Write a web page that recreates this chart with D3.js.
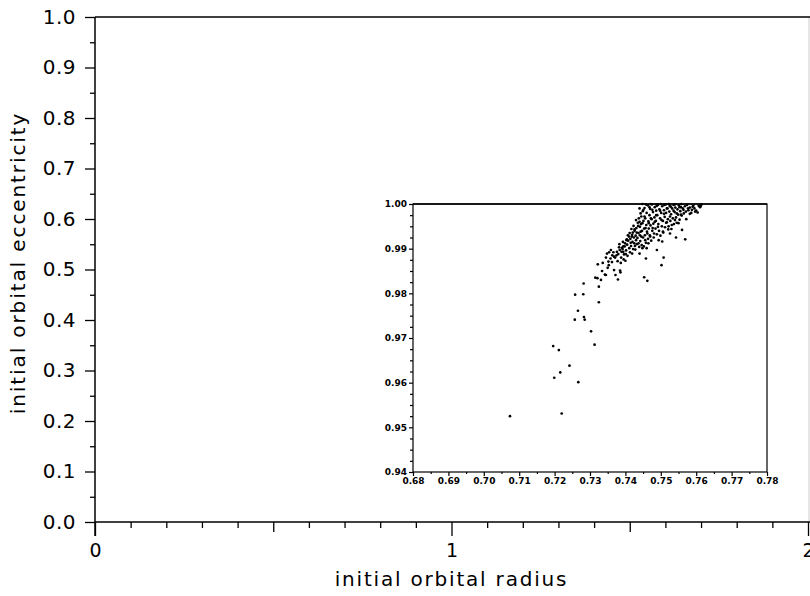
<!DOCTYPE html>
<html>
<head>
<meta charset="utf-8">
<script src="https://cdn.jsdelivr.net/npm/d3@7"></script>
<style>
  body { margin: 0; background: #fff; }
  text { font-family: "DejaVu Sans", sans-serif; fill: #000; }
</style>
</head>
<body>
<div class="chart"></div>
<script>
// main frame: eccentricity vs radius (empty), inset: zoom on the e ~ 1 cluster

var width = 810,
    height = 596;

// main axis ticks
var mainXTicks = [0, 1, 2];
var mainYTicks = [0, 0.1, 0.2, 0.3, 0.4, 0.5, 0.6, 0.7, 0.8, 0.9, 1.0];

// inset axis ticks
var insetXTicks = [0.68, 0.69, 0.70, 0.71, 0.72, 0.73, 0.74, 0.75, 0.76, 0.77, 0.78];
var insetYTicks = [0.94, 0.95, 0.96, 0.97, 0.98, 0.99, 1.00];

// inset points: initial radius / initial eccentricity
var orbR = [
  0.7074, 0.7220, 0.7196, 0.7212, 0.7199, 0.7216, 0.7242, 0.7267, 0.7258, 0.7266,
  0.7257, 0.7282, 0.7281, 0.7283, 0.7285, 0.7303, 0.7313, 0.7325, 0.7325, 0.7315,
  0.7321, 0.7322, 0.7331, 0.7336, 0.7334, 0.7342, 0.7350, 0.7345, 0.7345, 0.7348,
  0.7354, 0.7353, 0.7359, 0.7363, 0.7368, 0.7372, 0.7379, 0.7385, 0.7386, 0.7368,
  0.7375, 0.7382, 0.7390, 0.7389, 0.7394, 0.7394, 0.7387, 0.7395, 0.7401, 0.7399,
  0.7403, 0.7407, 0.7410, 0.7415, 0.7418, 0.7421, 0.7419, 0.7428, 0.7425, 0.7430,
  0.7437, 0.7440, 0.7423, 0.7426, 0.7432, 0.7435, 0.7430, 0.7438, 0.7441, 0.7443,
  0.7445, 0.7448, 0.7443, 0.7440, 0.7451, 0.7454, 0.7457, 0.7456, 0.7462, 0.7465,
  0.7460, 0.7458, 0.7453, 0.7462, 0.7470, 0.7466, 0.7472, 0.7468, 0.7476, 0.7477,
  0.7483, 0.7481, 0.7487, 0.7492, 0.7494, 0.7489, 0.7498, 0.7502, 0.7506, 0.7504,
  0.7502, 0.7508, 0.7509, 0.7515, 0.7517, 0.7521, 0.7526, 0.7531, 0.7528, 0.7536,
  0.7540, 0.7543, 0.7545, 0.7550, 0.7553, 0.7557, 0.7560, 0.7564, 0.7569, 0.7572,
  0.7577, 0.7582, 0.7588, 0.7592, 0.7597, 0.7604, 0.7611, 0.7613, 0.7526, 0.7489,
  0.7448,
  0.7380, 0.7384, 0.7388, 0.7392, 0.7396, 0.7398, 0.7400, 0.7402, 0.7405, 0.7406,
  0.7408, 0.7411, 0.7413, 0.7414, 0.7416, 0.7419, 0.7420, 0.7422, 0.7424, 0.7426,
  0.7427, 0.7429, 0.7431, 0.7432, 0.7434, 0.7436, 0.7437, 0.7439, 0.7440, 0.7441,
  0.7442, 0.7444, 0.7445, 0.7446, 0.7447, 0.7449, 0.7450, 0.7451, 0.7452, 0.7453,
  0.7454, 0.7455, 0.7456, 0.7458, 0.7459, 0.7460, 0.7461, 0.7463, 0.7464, 0.7465,
  0.7466, 0.7468, 0.7469, 0.7470, 0.7471, 0.7473, 0.7474, 0.7475, 0.7476, 0.7478,
  0.7479, 0.7480, 0.7482, 0.7483, 0.7485, 0.7486, 0.7487, 0.7489, 0.7490, 0.7492,
  0.7493, 0.7495, 0.7496, 0.7498, 0.7499, 0.7501, 0.7503, 0.7504, 0.7506, 0.7507,
  0.7509, 0.7511, 0.7512, 0.7514, 0.7515, 0.7517, 0.7519, 0.7520, 0.7522, 0.7524,
  0.7525, 0.7527, 0.7529, 0.7530, 0.7532, 0.7534, 0.7536, 0.7537, 0.7539, 0.7541,
  0.7543, 0.7545, 0.7547, 0.7549, 0.7551, 0.7553, 0.7555, 0.7557, 0.7559, 0.7562,
  0.7565, 0.7568, 0.7571, 0.7574, 0.7578, 0.7582, 0.7586, 0.7590, 0.7595, 0.7600,
  0.7607, 0.7615,
  0.7448, 0.7458, 0.7472, 0.7488, 0.7500, 0.7510, 0.7523, 0.7540, 0.7558,
  0.7352, 0.7358, 0.7362, 0.7366, 0.7371, 0.7376, 0.7378, 0.7383, 0.7393, 0.7404,
  0.7412, 0.7417
];

var orbE = [
  0.9525, 0.9531, 0.9682, 0.9673, 0.9611, 0.9623, 0.9638, 0.9601, 0.9797, 0.9761,
  0.9741, 0.9822, 0.9798, 0.9747, 0.9741, 0.9715, 0.9685, 0.9780, 0.9815, 0.9835,
  0.9834, 0.9865, 0.9830, 0.9868, 0.9850, 0.9842, 0.9857, 0.9841, 0.9880, 0.9889,
  0.9892, 0.9863, 0.9897, 0.9885, 0.9852, 0.9841, 0.9831, 0.9851, 0.9847, 0.9882,
  0.9885, 0.9903, 0.9902, 0.9893, 0.9905, 0.9893, 0.9868, 0.9876, 0.9888, 0.9912,
  0.9919, 0.9930, 0.9927, 0.9913, 0.9927, 0.9936, 0.9889, 0.9898, 0.9912, 0.9919,
  0.9912, 0.9889, 0.9951, 0.9943, 0.9936, 0.9958, 0.9964, 0.9968, 0.9949, 0.9938,
  0.9927, 0.9957, 0.9979, 0.9990, 0.9987, 0.9972, 0.9946, 0.9919, 0.9934, 0.9912,
  0.9901, 0.9878, 0.9836, 0.9828, 0.9927, 0.9957, 0.9968, 0.9993, 0.9987, 0.9946,
  0.9960, 0.9934, 0.9975, 0.9949, 0.9919, 0.9996, 0.9985, 0.9964, 0.9938, 0.9916,
  0.9863, 0.9880, 0.9978, 0.9958, 0.9990, 0.9943, 0.9972, 0.9953, 0.9994, 0.9985,
  0.9964, 0.9925, 0.9979, 0.9957, 0.9993, 0.9976, 0.9942, 0.9987, 0.9921, 0.9966,
  0.9990, 0.9978, 0.9987, 0.9996, 0.9983, 0.9981, 0.9993, 0.9996, 0.9934, 0.9897,
  0.9901,
  0.9888, 0.9897, 0.9880, 0.9899, 0.9887, 0.9905, 0.9873, 0.9896, 0.9909, 0.9884,
  0.9918, 0.9901, 0.9892, 0.9922, 0.9906, 0.9931, 0.9915, 0.9899, 0.9925, 0.9940,
  0.9906, 0.9929, 0.9946, 0.9910, 0.9924, 0.9951, 0.9935, 0.9904, 0.9960, 0.9930,
  0.9917, 0.9955, 0.9972, 0.9908, 0.9940, 0.9984, 0.9925, 0.9962, 0.9905, 0.9945,
  0.9991, 0.9930, 0.9968, 0.9913, 0.9953, 0.9980, 0.9938, 0.9997, 0.9922, 0.9961,
  0.9945, 0.9975, 0.9930, 0.9989, 0.9952, 0.9918, 0.9966, 0.9999, 0.9940, 0.9982,
  0.9956, 0.9925, 0.9970, 0.9993, 0.9945, 0.9962, 0.9985, 0.9932, 0.9975, 0.9998,
  0.9955, 0.9940, 0.9988, 0.9968, 0.9929, 0.9980, 0.9950, 0.9995, 0.9962, 0.9936,
  0.9986, 0.9971, 0.9948, 0.9999, 0.9980, 0.9959, 0.9990, 0.9966, 0.9950, 0.9983,
  0.9996, 0.9962, 0.9977, 0.9944, 0.9990, 0.9968, 0.9998, 0.9955, 0.9982, 0.9992,
  0.9970, 0.9958, 0.9988, 0.9976, 0.9997, 0.9965, 0.9984, 0.9993, 0.9974, 0.9990,
  0.9979, 0.9995, 0.9983, 0.9998, 0.9986, 0.9992, 0.9980, 0.9994, 0.9990, 0.9985,
  0.9996, 0.9999,
  1.0000, 0.9999, 1.0000, 0.9999, 1.0000, 0.9998, 1.0000, 0.9999, 1.0000,
  0.9871, 0.9878, 0.9870, 0.9892, 0.9880, 0.9893, 0.9872, 0.9910, 0.9915, 0.9921,
  0.9935, 0.9944
];

var points = orbR.map(function(r, i) { return { r: r, e: orbE[i] }; });

var svg = d3.select('.chart').append('svg')
    .attr('width', width)
    .attr('height', height);

// ---------- main frame ----------
var x = d3.scaleLinear().domain([0, 2]).range([95, 808]);
var y = d3.scaleLinear().domain([0, 1]).range([522, 17]);

// faint right edge and top edge of the frame
svg.append('line')
    .attr('x1', 809).attr('x2', 809)
    .attr('y1', y(1)).attr('y2', y(0))
    .attr('stroke', '#ccc')
    .attr('stroke-width', 1);
svg.append('line')
    .attr('x1', x(0)).attr('x2', width)
    .attr('y1', y(1)).attr('y2', y(1))
    .attr('stroke', '#000')
    .attr('stroke-width', 1.5);

// x minor / medium ticks
var xMinor = d3.range(1, 20).map(function(i) { return i / 10; }).filter(function(v) { return Math.abs(v - 1) > 1e-6; });
svg.append('g')
    .attr('transform', 'translate(0,' + y(0) + ')')
    .call(d3.axisBottom(x).tickValues(xMinor).tickSize(6).tickFormat(''))
    .call(function(g) {
      g.select('.domain').remove();
      g.selectAll('.tick line')
        .attr('y2', function(d) { return Math.abs(d - 0.5) < 1e-6 || Math.abs(d - 1.5) < 1e-6 ? 10 : 6; })
        .attr('stroke-width', 1.3);
    });

var xAxis = svg.append('g')
    .attr('transform', 'translate(0,' + y(0) + ')')
    .call(d3.axisBottom(x).tickValues(mainXTicks).tickSize(14).tickPadding(5)
      .tickFormat(function(d) { return String(d); }));
xAxis.select('.domain')
    .attr('d', 'M' + x(0) + ',0H' + width)
    .attr('stroke-width', 1.5);
xAxis.selectAll('.tick line').attr('stroke-width', 1.3);
xAxis.selectAll('.tick text')
    .attr('font-size', 19)
    .attr('dy', '0.85em');

// y minor ticks
var yMinor = d3.range(0, 10).map(function(i) { return i / 10 + 0.05; });
svg.append('g')
    .attr('transform', 'translate(' + x(0) + ',0)')
    .call(d3.axisLeft(y).tickValues(yMinor).tickSize(5).tickFormat(''))
    .call(function(g) {
      g.select('.domain').remove();
      g.selectAll('.tick line').attr('stroke-width', 1.3);
    });

var yAxis = svg.append('g')
    .attr('transform', 'translate(' + x(0) + ',0)')
    .call(d3.axisLeft(y).tickValues(mainYTicks).tickSize(10).tickPadding(9)
      .tickFormat(d3.format('.1f')));
yAxis.select('.domain')
    .attr('d', 'M0,' + y(1) + 'V' + (y(0) + 14))
    .attr('stroke-width', 1.5);
yAxis.selectAll('.tick line').attr('stroke-width', 1.3);
yAxis.selectAll('.tick text').attr('font-size', 20).attr('letter-spacing', 0.5);

svg.selectAll('.domain, .tick line').attr('stroke', '#000');

// axis titles
svg.append('text')
    .attr('x', x(1))
    .attr('y', 586)
    .attr('text-anchor', 'middle')
    .attr('font-size', 20)
    .attr('letter-spacing', 1.8)
    .text('initial orbital radius');

svg.append('text')
    .attr('transform', 'translate(25,263) rotate(-90)')
    .attr('text-anchor', 'middle')
    .attr('font-size', 20)
    .attr('letter-spacing', 1.9)
    .text('initial orbital eccentricity');

// ---------- inset ----------
var ix = d3.scaleLinear().domain([0.68, 0.78]).range([413, 767]);
var iy = d3.scaleLinear().domain([0.94, 1.00]).range([472, 204]);

var inset = svg.append('g');

inset.append('rect')
    .attr('x', ix(0.68)).attr('y', iy(1.00))
    .attr('width', ix(0.78) - ix(0.68))
    .attr('height', iy(0.94) - iy(1.00))
    .attr('fill', '#fff')
    .attr('stroke', '#000')
    .attr('stroke-width', 1.2);

var ixMinor = d3.range(0, 10).map(function(i) { return 0.685 + i / 100; });
var iyMinor = d3.range(0, 24).map(function(i) { return 0.94 + i * 0.0025; })
    .filter(function(v, i) { return i % 4 !== 0; });

inset.append('g')
    .attr('transform', 'translate(0,' + iy(0.94) + ')')
    .call(d3.axisBottom(ix).tickValues(ixMinor).tickSize(2).tickFormat(''))
    .call(function(g) { g.select('.domain').remove(); });

inset.append('g')
    .attr('transform', 'translate(0,' + iy(0.94) + ')')
    .call(d3.axisBottom(ix).tickValues(insetXTicks).tickSize(4).tickPadding(2)
      .tickFormat(d3.format('.2f')))
    .call(function(g) {
      g.select('.domain').remove();
      g.selectAll('.tick text').attr('font-size', 9).attr('font-weight', 'bold');
    });

inset.append('g')
    .attr('transform', 'translate(' + ix(0.68) + ',0)')
    .call(d3.axisLeft(iy).tickValues(iyMinor).tickSize(3).tickFormat(''))
    .call(function(g) { g.select('.domain').remove(); });

inset.append('g')
    .attr('transform', 'translate(' + ix(0.68) + ',0)')
    .call(d3.axisLeft(iy).tickValues(insetYTicks).tickSize(4).tickPadding(2)
      .tickFormat(d3.format('.2f')))
    .call(function(g) {
      g.select('.domain').remove();
      g.selectAll('.tick text').attr('font-size', 9).attr('font-weight', 'bold');
    });

inset.selectAll('.tick line').attr('stroke', '#000').attr('stroke-width', 1.2);

// scatter of the cluster
inset.selectAll('circle')
    .data(points)
  .enter().append('circle')
    .attr('cx', function(d) { return ix(d.r); })
    .attr('cy', function(d) { return iy(d.e); })
    .attr('r', 1.35)
    .attr('fill', '#000');

// heavy top edge of the inset
inset.append('line')
    .attr('x1', ix(0.68)).attr('x2', ix(0.78))
    .attr('y1', iy(1.00)).attr('y2', iy(1.00))
    .attr('stroke', '#000')
    .attr('stroke-width', 1.6);
</script>
</body>
</html>
